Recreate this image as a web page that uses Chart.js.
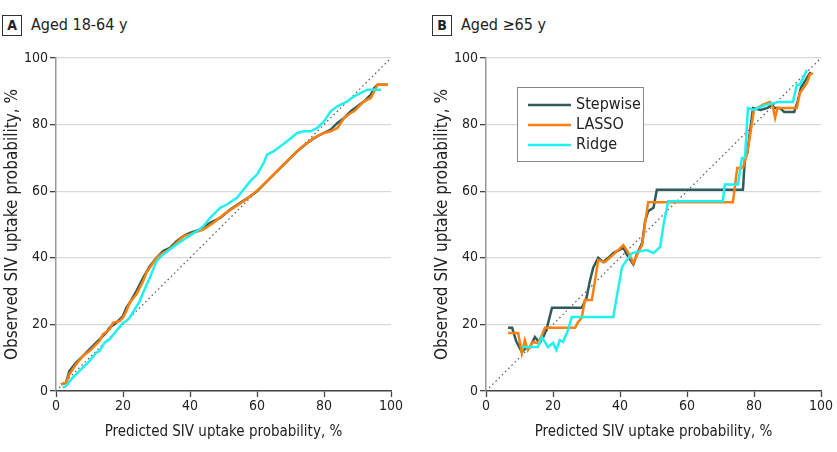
<!DOCTYPE html>
<html>
<head>
<meta charset="utf-8">
<script src="https://cdn.jsdelivr.net/npm/chart.js@4.4.1/dist/chart.umd.min.js"></script>
<style>
  body { margin: 0; background: #fff; }
  #wrap { position: relative; width: 837px; height: 452px; font-family: 'Liberation Sans Narrow', 'DejaVu Sans Condensed', sans-serif; }
  canvas { position: absolute; top: 0; }
  .tag { position: absolute; top: 15px; width: 18px; height: 19px; border: 1px solid #333; font-weight: bold; font-size: 14px; line-height: 19px; text-align: center; color: #222; }
  .ttl { position: absolute; top: 14px; font-size: 16px; line-height: 21px; color: #222; }
</style>
</head>
<body>
<div id="wrap">
  <div class="tag" style="left:2px">A</div><div class="ttl" style="left:31px">Aged 18-64 y</div>
  <div class="tag" style="left:432px">B</div><div class="ttl" style="left:461px">Aged ≥65 y</div>
  <canvas id="chartA" width="418" height="452" style="left:0"></canvas>
  <canvas id="chartB" width="407" height="452" style="left:430px"></canvas>
</div>
<script>
// panel A, aged 18-64
var stepAX = [1.5, 3, 4, 6, 8, 10, 12, 13, 15, 16, 18, 20, 21, 22, 24, 26, 28, 30, 32, 34, 36, 38, 40, 43, 46, 49, 52, 55, 58, 60, 63, 66, 69, 72, 75, 78, 80, 82, 84, 86, 88, 90, 92, 94, 95, 96, 99];
var stepAY = [2, 2.5, 6, 8.5, 10.5, 12.5, 14.5, 15.5, 17.5, 19, 20.5, 22.5, 25, 26.5, 30, 34, 37.5, 40, 42, 43, 45, 46.5, 47.5, 48.5, 50.5, 52, 54.5, 56.5, 58.5, 60, 63, 66, 69, 72, 74.5, 76.5, 77.5, 78.5, 80.5, 82, 84, 85.5, 87, 89, 91, 92, 92];
var lassoAX = [1.5, 3, 4, 6, 8, 10, 11, 13, 14, 16, 17, 19, 20, 21, 22, 24, 26, 27, 28, 30, 32, 33, 35, 38, 40, 41, 44, 47, 50, 53, 56, 58, 61, 64, 67, 70, 73, 75, 77, 80, 82, 84, 86, 88, 89, 90, 92, 94, 95, 96, 99];
var lassoAY = [2, 2.5, 5, 8, 10.5, 12, 13, 15, 17, 18.5, 20.5, 21, 22, 24, 26.5, 29, 33, 35.5, 37, 40, 41.5, 42, 43.5, 46.5, 47, 47.5, 48.5, 50.5, 53, 55, 57, 58.5, 61, 64, 67, 70, 73, 74.5, 76, 77.5, 78, 79, 82, 83.5, 84, 85, 87, 88, 90, 92, 92];
var ridgeAX = [2, 3, 5, 6, 8, 10, 12, 13, 14.5, 16, 18, 20, 21, 22, 23.5, 25, 26, 28, 30, 32, 34, 36, 39, 42, 44, 46, 49, 51, 54, 56, 58, 60, 62, 63, 65, 67, 69, 72, 74, 76, 78, 79, 80, 82, 84, 87, 89, 91, 93, 95, 97];
var ridgeAY = [1, 1.5, 4, 5, 7, 9, 11.5, 12, 14.5, 15.5, 18, 20.5, 21, 22, 24.5, 27, 29.5, 34, 39, 41, 42.5, 44, 46, 48, 49.5, 52, 55, 56, 58, 60.5, 63, 65, 68.5, 71, 72, 73.5, 75, 77.5, 78, 78, 79, 80, 81, 84, 85.5, 87, 88.5, 89.5, 90.5, 90.5, 90.5];

// panel B, aged 65+
var stepBX = [6.6, 7.8, 9, 10.7, 12, 13, 14.6, 16, 17, 18, 19.7, 28.6, 30, 31, 32, 33.5, 35, 36.5, 38, 41, 42, 44, 45, 46.6, 47.5, 48.4, 50, 51, 76.7, 77.3, 78, 79.7, 82, 84, 85.4, 86, 87.7, 89, 92, 93, 94, 96.7, 97];
var stepBY = [19, 19, 15, 11.7, 13, 13, 16.2, 14.4, 16, 18.3, 25, 25, 28, 33, 37, 40, 38.7, 40, 41.4, 43, 41, 38, 41, 44.4, 51, 54, 55, 60.4, 60.4, 70, 71.5, 85, 84.4, 85, 86, 85, 85, 83.8, 83.8, 86.8, 91, 95.5, 95.5];
var lassoBX = [6.6, 9.6, 10.7, 11.6, 12.5, 14, 15.5, 16.7, 17.6, 26.6, 27.5, 28.6, 29.5, 31.6, 33.5, 35.5, 38.5, 41, 42.4, 44, 45, 46.6, 47.5, 48.4, 73.7, 75, 76.7, 78, 80, 81, 82.7, 84, 84.8, 85.7, 86.3, 87, 88.7, 92.8, 93.7, 95.8, 96.7, 97.6];
var lassoBY = [17.4, 17.4, 11.4, 15.3, 12.3, 14.7, 14.4, 16.8, 19, 19, 20.7, 22, 27.3, 27.3, 39.3, 38.7, 41.4, 43.8, 41.7, 38.4, 40.8, 43.8, 50.4, 56.7, 56.7, 67, 67, 71.5, 84.4, 85, 86, 86.5, 86.8, 85, 82, 85, 85, 85, 89.5, 92.5, 95, 95.5];
var ridgeBX = [10.7, 15.5, 16.7, 18.5, 20, 21, 22, 23, 24.5, 25.6, 38, 39, 40.6, 42, 43.6, 45, 48, 50, 52, 53, 54.4, 70.7, 71.3, 75.2, 76.4, 77.3, 78.2, 80, 81.8, 83.8, 86.3, 87, 91.6, 92.8, 93.7, 95.8];
var ridgeBY = [13.2, 13.2, 16.2, 13.2, 14.4, 12.3, 15.3, 14.7, 18.3, 22.2, 22.2, 28.2, 37.2, 39.3, 41.4, 41.7, 42.3, 41.4, 43.3, 50, 57, 57, 62, 62, 70, 70, 85, 84.4, 85.3, 86, 86.5, 86.8, 86.8, 92, 92, 96.4];

var seriesNames = ['Stepwise', 'LASSO', 'Ridge'];
var seriesColors = ['#2f5b5a', '#ff7f0e', '#1ff0f0'];
var axisTicks = [0, 20, 40, 60, 80, 100];
var refLine = [0, 100];

var FONT = "'Liberation Sans Narrow', 'DejaVu Sans Condensed', sans-serif";

function pts(xs, ys) {
    return xs.map(function (x, i) { return { x: x, y: ys[i] }; });
}

// legend drawn inside the plot of panel B
var boxLegend = {
    id: 'boxLegend',
    afterDraw: function (chart) {
        var opts = chart.options.plugins.boxLegend;
        if (!opts || !opts.show) return;
        var ctx = chart.ctx, a = chart.chartArea;
        var left = a.left + 31, top = a.top + 29;
        ctx.save();
        ctx.fillStyle = '#fff';
        ctx.fillRect(left, top, 126, 74);
        ctx.strokeStyle = '#888';
        ctx.lineWidth = 1;
        ctx.strokeRect(left + 0.5, top + 0.5, 126, 74);
        ctx.font = '16px ' + FONT;
        ctx.textBaseline = 'middle';
        for (var i = 0; i < seriesNames.length; i++) {
            var y = top + 18 + i * 20;
            ctx.strokeStyle = seriesColors[i];
            ctx.lineWidth = 2.5;
            ctx.beginPath();
            ctx.moveTo(left + 11, y);
            ctx.lineTo(left + 54, y);
            ctx.stroke();
            ctx.fillStyle = '#222';
            ctx.fillText(seriesNames[i], left + 59, y);
        }
        ctx.restore();
    }
};

function makeChart(id, series, padRight, legend) {
    var datasets = series.map(function (s, i) {
        return {
            label: seriesNames[i],
            data: s,
            borderColor: seriesColors[i],
            borderWidth: 2.5,
            pointRadius: 0,
            tension: 0,
            fill: false,
            order: 3 - i
        };
    });
    datasets.push({
        label: 'ref',
        data: pts(refLine, refLine),
        borderColor: '#555',
        borderWidth: 1.2,
        borderDash: [1.5, 3],
        pointRadius: 0,
        order: 10
    });
    return new Chart(document.getElementById(id).getContext('2d'), {
        type: 'line',
        data: { datasets: datasets },
        plugins: [boxLegend],
        options: {
            responsive: false,
            animation: false,
            layout: { padding: { top: 58, right: padRight, left: 0, bottom: 0 } },
            plugins: {
                legend: { display: false },
                tooltip: { enabled: false },
                boxLegend: { show: legend }
            },
            scales: {
                x: {
                    type: 'linear', min: 0, max: 100,
                    afterBuildTicks: function (s) { s.ticks = axisTicks.map(function (v) { return { value: v }; }); },
                    afterFit: function (s) { s.height = 61; },
                    grid: { drawOnChartArea: false, tickLength: 6, tickColor: '#444', tickWidth: 1.3 },
                    border: { color: '#444', width: 1.5 },
                    ticks: { maxRotation: 0, padding: 1, color: '#222', font: { family: FONT, size: 14 } },
                    title: { display: true, text: 'Predicted SIV uptake probability, %', color: '#222',
                             font: { family: FONT, size: 15 }, padding: { top: 0, bottom: 11 } }
                },
                y: {
                    type: 'linear', min: 0, max: 100,
                    afterBuildTicks: function (s) { s.ticks = axisTicks.map(function (v) { return { value: v }; }); },
                    afterFit: function (s) { s.width = 56; },
                    grid: { color: '#d9d9d9', lineWidth: 1.3, tickLength: 6, tickColor: '#444', tickWidth: 1.3 },
                    border: { color: '#9a9a9a', width: 1.5 },
                    ticks: { padding: 2, color: '#222', font: { family: FONT, size: 14 } },
                    title: { display: true, text: 'Observed SIV uptake probability, %', color: '#222',
                             font: { family: FONT, size: 17 }, padding: { top: 2, bottom: 0 } }
                }
            }
        }
    });
}

makeChart('chartA', [pts(stepAX, stepAY), pts(lassoAX, lassoAY), pts(ridgeAX, ridgeAY)], 27, false);
makeChart('chartB', [pts(stepBX, stepBY), pts(lassoBX, lassoBY), pts(ridgeBX, ridgeBY)], 16, true);
</script>
</body>
</html>
